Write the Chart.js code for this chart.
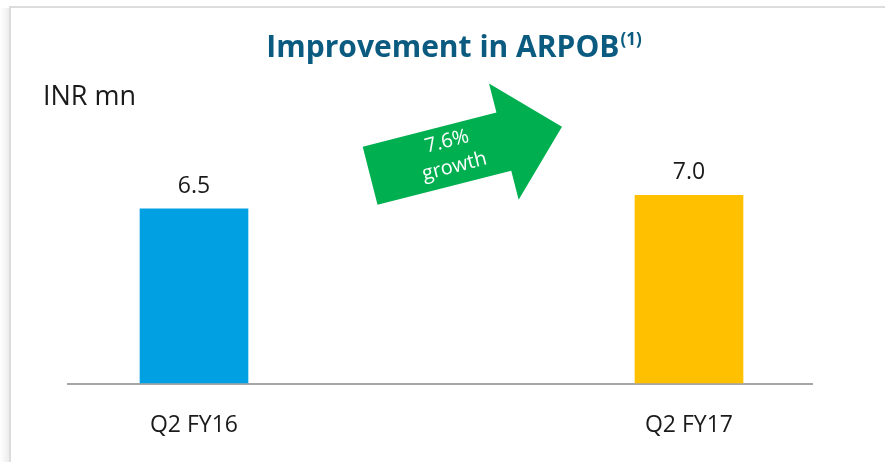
<!DOCTYPE html>
<html>
<head>
<meta charset="utf-8">
<script src="https://cdn.jsdelivr.net/npm/chart.js@4.4.1/dist/chart.umd.min.js"></script>
<style>
  html, body { margin: 0; padding: 0; background: #fff; }
  #wrap { position: relative; width: 885px; height: 462px; overflow: hidden; }
  canvas { position: absolute; left: 0; top: 0; }
  .title { position: absolute; left: 454px; top: 31px; transform: translateX(-50%); white-space: nowrap;
           font-family: "Open Sans", sans-serif; font-weight: 700; font-size: 30px; line-height: 30px; color: #0b5b80; }
  .title sup { font-size: 17px; vertical-align: 0; position: relative; top: -12px; margin-left: 1px; }
  .unit { position: absolute; left: 43px; top: 81px; white-space: nowrap;
          font-family: "Open Sans", sans-serif; font-size: 27px; line-height: 28px; color: #1a1a1a; }
</style>
</head>
<body>
<div id="wrap">
  <canvas id="c" width="885" height="462"></canvas>
  <div class="title">Improvement in ARPOB<sup>(1)</sup></div>
  <div class="unit">INR mn</div>
</div>
<script>
const categories = ['Q2 FY16', 'Q2 FY17'];
const arpobValues = [6.5, 7.0];
const barColors = ['#00a0e2', '#ffc000'];
const growthLabel = ['7.6%', 'growth'];

const FONT = '"Open Sans", sans-serif';

const framePlugin = {
  id: 'frame',
  beforeDraw(chart) {
    const ctx = chart.ctx;
    ctx.save();
    ctx.fillStyle = '#ffffff';
    ctx.fillRect(0, 0, chart.width, chart.height);
    const g = ctx.createLinearGradient(0, 0, 9, 0);
    g.addColorStop(0, 'rgba(0,0,0,0)');
    g.addColorStop(1, 'rgba(0,0,0,0.07)');
    ctx.fillStyle = g;
    ctx.fillRect(0, 8, 9, chart.height);
    ctx.strokeStyle = '#dcdcdc';
    ctx.lineWidth = 2;
    ctx.beginPath();
    ctx.moveTo(9, 7); ctx.lineTo(chart.width, 7);
    ctx.moveTo(10, 7); ctx.lineTo(10, chart.height);
    ctx.stroke();
    ctx.restore();
  }
};

const baselinePlugin = {
  id: 'baseline',
  beforeDatasetsDraw(chart) {
    const { ctx, chartArea, scales } = chart;
    const y = scales.y.getPixelForValue(0) + 1;
    ctx.save();
    ctx.strokeStyle = '#a6a6a6';
    ctx.lineWidth = 2;
    ctx.beginPath();
    ctx.moveTo(chartArea.left - 127, y);
    ctx.lineTo(chartArea.right + 124, y);
    ctx.stroke();
    ctx.restore();
  }
};

const valueLabelPlugin = {
  id: 'valueLabels',
  afterDatasetsDraw(chart) {
    const ctx = chart.ctx;
    const meta = chart.getDatasetMeta(0);
    ctx.save();
    ctx.font = '23px ' + FONT;
    ctx.fillStyle = '#1a1a1a';
    ctx.textAlign = 'center';
    ctx.textBaseline = 'alphabetic';
    meta.data.forEach((bar, i) => {
      ctx.fillText(arpobValues[i].toFixed(1), bar.x, bar.y - 16);
    });
    ctx.restore();
  }
};

const arrowPlugin = {
  id: 'growthArrow',
  afterDraw(chart) {
    const ctx = chart.ctx;
    ctx.save();
    ctx.translate(362.7, 146.7);
    ctx.rotate(-14.3 * Math.PI / 180);
    ctx.fillStyle = '#00b050';
    ctx.beginPath();
    ctx.moveTo(0, 0);
    ctx.lineTo(138, 0);
    ctx.lineTo(138, -30);
    ctx.lineTo(198, 30);
    ctx.lineTo(138, 90);
    ctx.lineTo(138, 60);
    ctx.lineTo(0, 60);
    ctx.closePath();
    ctx.fill();
    ctx.fillStyle = '#ffffff';
    ctx.font = '20px ' + FONT;
    ctx.textAlign = 'center';
    ctx.textBaseline = 'middle';
    ctx.fillText(growthLabel[0], 83, 16);
    ctx.fillText(growthLabel[1], 84, 42);
    ctx.restore();
  }
};

new Chart(document.getElementById('c'), {
  type: 'bar',
  data: {
    labels: categories,
    datasets: [{
      data: arpobValues,
      backgroundColor: barColors,
      borderWidth: 0,
      barThickness: 108,
      clip: false
    }]
  },
  options: {
    responsive: false,
    devicePixelRatio: 1,
    animation: false,
    layout: { padding: { left: 194, right: 196, top: 115, bottom: 0 } },
    plugins: { legend: { display: false }, tooltip: { enabled: false } },
    scales: {
      x: {
        offset: false,
        grid: { display: false, drawTicks: false },
        border: { display: false },
        ticks: { color: '#1a1a1a', font: { family: FONT, size: 23 }, padding: 29, maxRotation: 0 },
        afterFit(scale) { scale.height = 79; }
      },
      y: { display: false, min: 0, max: 10 }
    }
  },
  plugins: [framePlugin, baselinePlugin, valueLabelPlugin, arrowPlugin]
});
</script>
</body>
</html>
